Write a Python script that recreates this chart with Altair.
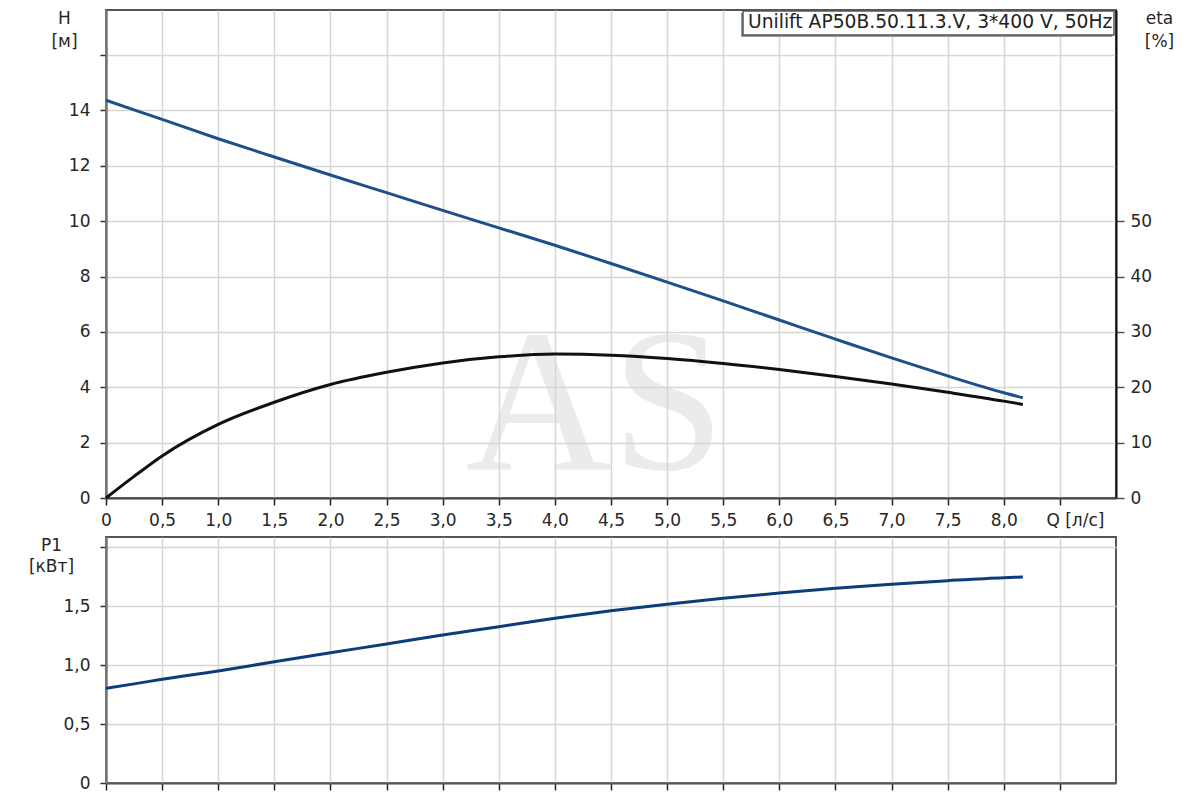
import altair as alt
import pandas as pd

# ---------------- data ----------------
Q = [0, 0.25, 0.5, 1.0, 1.5, 2.0, 2.5, 3.0, 3.5, 4.0, 4.5, 5.0, 5.5, 6.0, 6.5, 7.0, 7.5, 8.0, 8.17]
H = [14.37, 14.02, 13.68, 12.98, 12.32, 11.67, 11.03, 10.39, 9.76, 9.13, 8.47, 7.80, 7.12, 6.43, 5.74, 5.06, 4.41, 3.80, 3.62]
ETA = [0, 3.9, 7.6, 13.3, 17.3, 20.5, 22.7, 24.4, 25.5, 26.0, 25.8, 25.2, 24.3, 23.2, 21.95, 20.6, 19.1, 17.5, 16.9]
P1 = [0.803, 0.84, 0.879, 0.949, 1.028, 1.104, 1.178, 1.254, 1.325, 1.396, 1.46, 1.515, 1.565, 1.61, 1.65, 1.685, 1.715, 1.74, 1.745]

X_TICKS = [0, 0.5, 1.0, 1.5, 2.0, 2.5, 3.0, 3.5, 4.0, 4.5, 5.0, 5.5, 6.0, 6.5, 7.0, 7.5, 8.0, 8.5]
H_TICKS = [0, 2, 4, 6, 8, 10, 12, 14, 16]
ETA_TICKS = [0, 10, 20, 30, 40, 50]
P_TICKS = [0, 0.5, 1.0, 1.5, 2.0]

LEGEND_TEXT = "Unilift AP50B.50.11.3.V, 3*400 V, 50Hz"
WATERMARK = "AS"
Q_LABEL = "Q [л/с]"

df = pd.DataFrame({"Q": Q, "H": H, "eta": ETA, "P1": P1})
one = pd.DataFrame({"k": [0]})

FONT = "DejaVu Sans"
LBL = "#262626"
GRID = "#d6d6d6"
W = 1010
H_TOP = 488
H_MAX = 17.63
ETA_MAX = H_MAX * 5
H_BOT = 246
P_MAX = 2.085

x_label_expr = (
    "datum.value == 0 ? '0' : datum.value == 8.5 ? '" + Q_LABEL + "' : "
    "replace(format(datum.value, '.1f'), '.', ',')"
)

x_scale = alt.Scale(domain=[0, 9], nice=False)

x_top = alt.X(
    "Q:Q",
    scale=x_scale,
    axis=alt.Axis(
        values=X_TICKS, labelExpr=x_label_expr, title=None,
        grid=True, gridColor=GRID, gridWidth=1.5,
        tickSize=7, tickColor="#222", tickWidth=1.5,
        domainColor="#444", domainWidth=2,
        labelPadding=7, labelFont=FONT, labelFontSize=17, labelColor=LBL,
        labelFlush=False, labelOverlap=False,
        labelOffset={"condition": {"test": "datum.value == 8.5", "value": 15}, "value": 0},
    ),
)

h_line = alt.Chart(df).mark_line(color="#1f4e8c", strokeWidth=3, interpolate="monotone").encode(
    x=x_top,
    y=alt.Y(
        "H:Q",
        scale=alt.Scale(domain=[0, H_MAX], nice=False),
        axis=alt.Axis(
            orient="left", values=H_TICKS,
            labelExpr="datum.value > 14 ? '' : datum.label",
            grid=True, gridColor=GRID, gridWidth=1.5,
            tickSize=6, tickColor="#333", tickWidth=1.5,
            domainColor="#777", domainWidth=2.5,
            labelPadding=10, labelFont=FONT, labelFontSize=17, labelColor=LBL,
            labelOverlap=False,
            title=["H", "[м]"], titleAngle=0, titleAlign="center", titleBaseline="top",
            titleX=-42, titleY=0, titleFont=FONT, titleFontSize=17,
            titleFontWeight="normal", titleColor=LBL, titleLineHeight=23,
        ),
    ),
)

eta_line = alt.Chart(df).mark_line(color="#111111", strokeWidth=3, interpolate="monotone").encode(
    x=x_top,
    y=alt.Y(
        "eta:Q",
        scale=alt.Scale(domain=[0, ETA_MAX], nice=False),
        axis=alt.Axis(
            orient="right", values=ETA_TICKS, grid=False,
            tickSize=8, tickColor="#555", tickWidth=1.5,
            domainColor="#111", domainWidth=2,
            labelPadding=6, labelFont=FONT, labelFontSize=17, labelColor=LBL,
            labelOverlap=False,
            title=["eta", "[%]"], titleAngle=0, titleAlign="center", titleBaseline="top",
            titleX=43, titleY=0, titleFont=FONT, titleFontSize=17,
            titleFontWeight="normal", titleColor=LBL, titleLineHeight=23,
        ),
    ),
)

watermark = alt.Chart(one).mark_text(
    font="Liberation Serif", fontSize=203, color="#d4d4d4", opacity=0.45,
    align="center", baseline="alphabetic",
).encode(x=alt.value(489), y=alt.value(459), text=alt.value(WATERMARK))

legend_shadow = alt.Chart(one).mark_rect(fill="#9a9a9a").encode(
    x=alt.value(635), x2=alt.value(1006), y=alt.value(3), y2=alt.value(27)
)
legend_box = alt.Chart(one).mark_rect(fill="white", stroke="#555", strokeWidth=1.5).encode(
    x=alt.value(637), x2=alt.value(1008), y=alt.value(1), y2=alt.value(25)
)
legend_text = alt.Chart(one).mark_text(
    font=FONT, fontSize=18.7, color="#222", align="left", baseline="middle"
).encode(x=alt.value(642), y=alt.value(12), text=alt.value(LEGEND_TEXT))

spacer_top = alt.Chart(one).mark_rule(color="white").encode(
    x=alt.value(-96), x2=alt.value(-95), y=alt.value(300)
)

top = alt.layer(
    watermark, h_line, eta_line, legend_shadow, legend_box, legend_text, spacer_top
).resolve_scale(y="independent").properties(width=W, height=H_TOP)

p_line = alt.Chart(df).mark_line(color="#0c3c7a", strokeWidth=3, interpolate="monotone").encode(
    x=alt.X(
        "Q:Q",
        scale=x_scale,
        axis=alt.Axis(
            values=X_TICKS, labels=False, title=None,
            grid=True, gridColor=GRID, gridWidth=1.5,
            tickSize=7, tickColor="#222", tickWidth=1.5,
            domainColor="#555", domainWidth=2,
        ),
    ),
    y=alt.Y(
        "P1:Q",
        scale=alt.Scale(domain=[0, P_MAX], nice=False),
        axis=alt.Axis(
            values=P_TICKS,
            labelExpr="datum.value == 2 ? '' : datum.value == 0 ? '0' : replace(format(datum.value, '.1f'), '.', ',')",
            grid=True, gridColor=GRID, gridWidth=1.5,
            tickSize=6, tickColor="#333", tickWidth=1.5,
            domainColor="#777", domainWidth=2.5,
            labelPadding=10, labelFont=FONT, labelFontSize=17, labelColor=LBL,
            labelOverlap=False,
            title=["P1", "[кВт]"], titleAngle=0, titleAlign="center", titleBaseline="top",
            titleX=-55, titleY=0, titleFont=FONT, titleFontSize=17,
            titleFontWeight="normal", titleColor=LBL, titleLineHeight=21,
        ),
    ),
)

spacer_bot = alt.Chart(one).mark_rule(color="white").encode(
    x=alt.value(-96), x2=alt.value(-95), y=alt.value(100)
)

bottom = alt.layer(p_line, spacer_bot).properties(width=W, height=H_BOT)

chart = alt.vconcat(top, bottom, spacing=6).properties(
    padding={"left": 0, "top": 0, "right": 5, "bottom": 5}
).configure_view(stroke="#555", strokeWidth=2)

chart.save("out.html", embed_options={"renderer": "svg", "actions": False})
